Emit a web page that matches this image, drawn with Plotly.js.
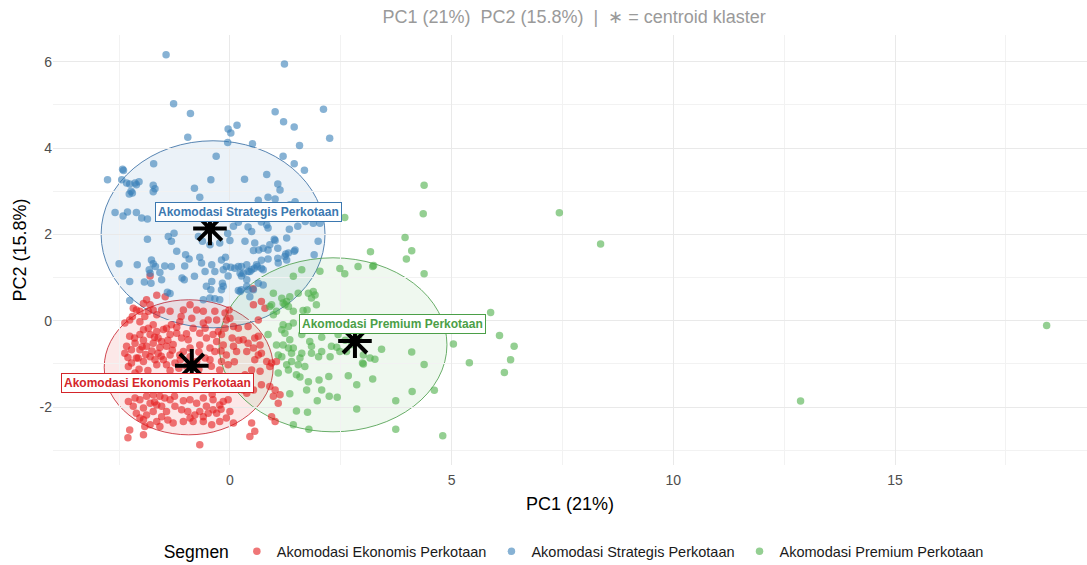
<!DOCTYPE html>
<html>
<head>
<meta charset="utf-8">
<script src="https://cdn.plot.ly/plotly-3.0.1.min.js"></script>
<style>
  html, body { margin: 0; padding: 0; background: #ffffff; }
  #chart { width: 1087px; height: 565px; }
</style>
</head>
<body>
<div id="chart"></div>
<script>
// Segment names, colours and the PCA scores (PC1, PC2) of every listing
const segments = ['Akomodasi Ekonomis Perkotaan', 'Akomodasi Strategis Perkotaan', 'Akomodasi Premium Perkotaan'];
const segmentColors = ['#E41A1C', '#377EB8', '#4DAF4A'];
const labelColors = ['#D4252A', '#3B78B0', '#4B9F48'];
const fillColors = ['rgba(228,26,28,0.10)', 'rgba(55,126,184,0.10)', 'rgba(77,175,74,0.09)'];
const edgeColors = ['rgba(200,40,50,0.85)', 'rgba(70,120,170,0.9)', 'rgba(80,160,80,0.85)'];

const ekonomisPts = [
  [-1.88,0.49],[-1.80,0.37],[-1.73,0.25],[-1.84,0.22],[-1.92,0.10],[-2.03,0.22],[-2.11,0.25],[-2.18,0.29],[-2.37,-0.05],[-2.26,0.02],
  [-2.03,-0.02],[-1.65,0.59],[-1.54,0.25],[-1.35,0.22],[-1.32,-0.09],[-1.13,-0.02],[-1.05,0.25],[-0.90,0.37],[-0.75,0.25],[-0.86,0.06],
  [-0.60,0.22],[-0.49,0.02],[-0.34,0.22],[-0.30,0.02],[-0.11,0.18],[-0.08,0.02],[-0.02,0.25],[0.00,0.06],[0.08,-0.13],[-0.11,-0.17],
  [-0.19,-0.32],[0.19,-0.17],[0.08,-0.59],[0.15,-0.71],
  [-1.65,0.14],[-1.73,-0.09],[-1.84,-0.17],[-1.95,-0.21],[-1.80,-0.32],[-1.65,-0.25],[-2.03,-0.32],[-2.26,-0.36],[-2.14,-0.52],[-2.33,-0.59],
  [-2.37,-0.75],[-2.22,-0.67],[-2.03,-0.67],[-1.88,-0.59],[-1.73,-0.52],[-1.54,-0.48],[-1.43,-0.59],[-1.62,-0.75],[-1.80,-0.83],[-1.69,-0.90],
  [-1.50,-0.90],[-1.35,-0.79],[-1.95,-0.94],[-2.11,-0.86],[-2.22,-0.98],[-1.65,-1.02],[-1.43,-1.02],[-1.24,-0.98],[-1.13,-0.79],[-1.05,-0.71],
  [-0.90,-0.63],[-0.94,-0.44],[-1.09,-0.40],[-1.20,-0.29],[-1.35,-0.32],[-1.43,-0.17],[-0.83,-0.17],[-0.68,-0.29],[-0.53,-0.40],[-0.56,-0.17],
  [-0.38,-0.32],[-0.26,-0.25],[-0.45,-0.63],[-0.34,-0.71],[-0.15,-0.56],[-0.08,-0.79],[-0.19,-0.94],[-0.04,-1.02],[-0.23,-1.14],[-0.56,-0.86],
  [-0.75,-0.94],[-0.90,-0.83],[-0.68,-0.56],
  [-2.29,-1.87],[-2.14,-1.79],[-2.03,-1.83],[-1.88,-1.75],[-1.73,-1.71],[-1.58,-1.75],[-1.47,-1.79],[-1.35,-1.83],[-2.18,-1.98],[-1.95,-2.02],
  [-1.80,-1.91],[-1.65,-1.95],[-1.54,-1.98],[-1.73,-2.10],[-1.88,-2.18],[-2.03,-2.25],[-2.11,-2.14],[-1.54,-2.22],[-1.43,-2.10],[-1.24,-1.98],
  [-1.09,-2.06],[-0.90,-1.83],[-0.75,-1.91],[-0.60,-1.79],[-0.53,-1.98],[-0.68,-2.10],[-0.79,-2.18],[-0.60,-2.22],[-0.49,-2.14],[-0.38,-2.06],
  [-0.30,-2.14],[-0.23,-1.95],[-0.15,-1.87],[-0.04,-1.83],[-0.38,-1.83],[0.00,-2.10],[-0.08,-2.25],[-0.23,-2.33],[0.08,-2.37],[-1.65,-2.33],
  [-1.80,-2.41],[-1.92,-2.45],[-1.58,-2.45],[-1.28,-2.37],[-1.05,-2.33],[-0.90,-2.25],[-0.83,-2.33],[-0.60,-2.33],[-0.41,-2.41],[-1.95,-2.64],
  [-2.26,-2.53],[-1.95,-2.29],[-0.68,-2.87],
  [0.53,0.37],[0.71,0.45],[0.79,0.29],[0.64,0.02],[0.41,-0.13],[0.56,-0.40],[0.30,-0.44],[0.41,-0.52],[0.64,-0.36],[0.68,-0.56],
  [0.53,-0.63],[0.38,-0.71],[0.71,-0.75],[0.83,-0.94],[0.94,-0.98],[1.05,-0.94],[0.90,-1.06],[0.64,-0.79],[0.56,-0.90],[0.49,-1.14],
  [0.68,-1.17],[0.34,-1.25],[0.30,-1.60],[0.38,-1.68],[0.53,-1.60],[0.71,-1.48],[0.90,-1.52],[1.02,-1.60],[0.98,-1.75],[1.13,-1.71],
  [1.09,-1.91],[0.94,-2.22],[1.02,-2.33],[0.49,-2.37],[0.56,-2.56],[0.45,-2.68],
  [-1.80,1.04],[-1.46,0.56],[0.52,0.74],[-2.30,-2.71],[-2.29,-1.06],[-2.14,-1.21],[-2.07,-0.86],[-1.95,-0.45],[-1.70,-0.38],[-1.58,-0.62],
  [-1.28,-0.55],[-1.15,-1.10],[-0.98,-1.05],[-0.70,-1.12],[-0.42,-1.05],[-2.05,-1.12],[-1.85,-1.15],[-1.35,-1.15],[-0.85,-0.98],[-1.50,-0.20],
  [-1.95,0.40],[-2.20,0.10],[-0.60,-0.05],[-0.30,-0.48],[0.05,-0.40],[0.20,-0.45],[0.10,-0.95],[-1.25,-1.75],[-1.05,-1.85],[-0.40,-1.70],
  [-2.15,-0.40],[-1.98,-0.60],[-1.76,-0.70],[-1.55,-0.82],[-1.30,-0.68],[-1.12,-0.90],[-2.30,-0.85],[-1.90,-0.78],[-1.62,-0.40],[-1.40,-0.45],
  [-1.20,-0.15],[-0.98,-0.30],[-0.70,-0.72],[-0.45,-0.90],[-0.20,-0.70],[-1.40,-2.30],[-1.70,-1.88],[-0.95,-2.10],[-0.20,-2.05],[-1.10,0.10]
];

const strategisPts = [
  [-1.44,6.16],[1.23,5.95],[-1.27,5.03],[-0.89,4.80],[-0.95,4.25],[-0.31,3.81],[-1.72,3.64],[-2.42,3.51],[-2.40,3.48],[-0.04,4.44],
  [0.02,4.35],[0.16,4.53],[-0.05,4.13],[0.51,4.10],[1.02,4.84],[1.21,4.61],[1.45,4.49],[1.57,4.06],[2.11,4.90],[2.25,4.23],
  [1.20,3.81],[1.45,3.64],[1.68,3.49],[0.83,3.39],[0.33,3.28],[-0.43,3.27],[-2.76,3.27],
  [-2.44,3.27],[-2.33,3.19],[-2.26,3.17],[-2.14,3.19],[-2.05,3.22],[-2.11,3.15],[-2.23,3.00],[-2.27,2.94],[-2.20,2.96],[-1.73,3.14],
  [-1.69,3.06],[-1.73,2.99],[-0.80,3.07],[-0.68,2.86],[1.08,3.17],[1.13,3.03],[0.86,2.86],[0.64,2.79],[1.02,2.82],[-2.59,2.51],
  [-2.41,2.43],[-2.31,2.52],[-2.11,2.51],[-1.99,2.38],[-1.86,2.36],[1.47,2.76],[1.35,2.69],[1.88,2.26],[2.03,2.26],[1.53,2.19],
  [1.34,2.12],[0.86,2.15],[0.83,2.22],[0.71,2.29],[0.41,2.17],[0.49,2.07],[0.19,2.28],[0.08,2.19],[-0.05,2.02],[0.00,1.86],
  [-0.23,1.80],[-0.45,1.76],[-0.62,1.84],[-1.26,2.03],[-1.39,1.95],[-1.86,1.89],[-1.32,1.84],[-1.20,1.61],[-1.00,1.53],[-0.92,1.43],
  [-1.02,1.27],[-1.47,1.27],[-1.32,1.26],[-1.77,1.41],[-1.73,1.32],[-1.82,1.18],[-1.68,1.26],[-2.09,1.30],[-2.50,1.32],[-2.26,0.91],
  [-1.78,0.87],[-1.54,0.95],[-1.08,0.99],[-1.03,0.95],[-0.80,1.03],[-0.64,1.34],[-0.68,1.47],[-0.56,1.14],[-0.41,1.30],[-0.19,1.41],
  [-0.10,1.47],[0.34,1.84],[0.56,1.80],[0.65,1.64],[0.53,1.63],[0.75,1.68],[0.86,1.64],[1.02,1.86],[1.08,1.68],[1.28,1.92],
  [1.45,1.61],[1.26,1.55],[1.28,1.41],[1.08,1.45],[0.86,1.43],[0.71,1.40],[0.62,1.26],[0.55,1.22],[0.49,1.18],[0.38,1.30],
  [0.26,1.26],[0.19,1.26],[0.11,1.22],[0.23,1.10],[0.26,1.04],[0.02,1.24],[-0.08,1.26],[-0.15,1.18],[-0.34,1.14],[-0.04,1.04],
  [-0.41,0.91],[-0.53,0.80],[-0.43,0.72],[-0.19,0.72],[-0.17,0.87],[0.23,0.68],[0.41,0.72],[0.64,0.87],[0.75,0.83],[1.99,1.84],
  [1.90,1.53],
  [-2.26,0.47],[-1.41,0.66],[-1.35,0.63],[-0.45,0.53],[-0.34,0.51],[-0.23,0.49],[-0.15,0.80],[0.19,0.70],[0.53,0.72],[0.45,0.56],
  [-0.60,0.49],[-1.80,1.10],[-1.58,1.12],[-1.93,0.90],[0.30,1.10],[0.45,1.14],[0.75,1.18],[0.38,0.95],[0.90,1.76],[1.24,1.49],
  [1.32,1.57],[1.47,1.64],[1.09,1.34],[0.60,1.30],[0.71,1.22],[0.41,1.14],[0.26,0.72],[0.38,0.80],[1.70,2.30],[1.00,1.89],
  [-0.71,1.95]
];

const premiumPts = [
  [4.38,3.14],[4.36,2.48],[3.95,1.93],[4.10,1.62],[3.98,1.43],[4.38,1.09],[3.17,1.60],[3.22,1.26],[3.24,1.28],[2.89,1.26],
  [2.48,1.21],[2.59,1.09],[2.03,1.15],[1.62,1.18],[1.43,1.03],[2.59,2.39],[1.88,0.68],[1.92,0.60],[1.84,0.53],[1.74,0.25],
  [1.65,0.24],[1.35,0.56],[1.28,0.45],[1.24,0.37],[0.98,0.14],[1.05,0.22],[0.90,0.33],[0.98,0.64],[1.17,0.52],[1.54,0.64],
  [1.77,0.64],[1.20,0.41],[1.32,0.33],[1.43,0.22],[0.94,0.37],[1.95,0.37],
  [1.20,-0.09],[1.32,-0.13],[1.43,-0.05],[1.17,-0.21],[1.62,-0.32],[2.07,-0.38],[2.44,-0.32],[1.05,-0.56],[1.20,-0.56],[1.39,-0.75],
  [1.62,-0.75],[1.84,-0.75],[2.07,-0.71],[1.84,-0.59],[2.29,-0.59],[2.41,-0.61],[2.48,-0.71],[2.63,-0.71],[2.26,-0.83],[2.00,-0.83],
  [1.58,-0.86],[1.39,-0.94],[1.69,-1.06],[1.54,-1.02],[1.32,-1.14],[1.09,-1.21],[1.58,-1.30],[1.77,-1.41],[2.01,-1.37],[2.23,-1.29],
  [2.67,-1.27],[2.86,-1.48],[3.22,-1.35],[1.73,-1.60],[1.35,-1.69],[1.97,-1.85],[2.24,-1.75],[2.42,-1.77],[1.50,-2.09],[1.75,-2.12],
  [2.86,-2.04],[1.43,-2.41],[1.78,-2.51],[3.74,-2.51],[3.42,-0.66],[3.27,-0.89],[3.01,-0.79],[2.99,-0.98],[3.01,-1.00],[3.16,-0.86],
  [4.10,-0.72],[4.38,-1.01],[3.74,-1.85],[4.11,-1.64],[4.61,-1.61],[5.04,-0.54],[4.80,-2.66],[5.40,-0.97],[5.88,0.19],[6.08,-0.34],
  [6.41,-0.59],[6.33,-0.90],[6.19,-1.20],[2.60,-0.45],[2.75,-0.55],[2.90,-0.40],[1.35,-0.44],[1.32,-0.63],[1.43,-0.63],[1.09,-0.79],
  [1.28,-1.02],[0.86,-0.32],[1.24,-0.29],[1.17,-0.83],[1.50,-1.25],[2.07,-1.60],[1.80,-0.48],
  [7.43,2.50],[8.36,1.78],[12.87,-1.86],[18.42,-0.11]
];

// Cluster centroids, 95% ellipses (centre and semi-axes) and label anchors, in segment order
const centroidX = [-0.86, -0.45, 2.82];
const centroidY = [-1.04, 2.14, -0.47];
const ellipseCx = [-0.93, -0.38, 2.325];
const ellipseCy = [-1.077, 2.004, -0.556];
const ellipseRx = [1.905, 2.525, 2.57];
const ellipseRy = [1.564, 2.166, 2.015];
const labelX = [-1.64, 0.43, 3.66];
const labelY = [-1.44, 2.52, -0.07];

// Axis ticks
const xTickVals = [0, 5, 10, 15];
const xTickText = ['0', '5', '10', '15'];
const xMinorVals = [-2.5, 2.5, 7.5, 12.5, 17.5];
const yTickVals = [-2, 0, 2, 4, 6];
const yTickText = ['-2', '0', '2', '4', '6'];
const yMinorVals = [-3, -1, 1, 3, 5];

const pointSets = [ekonomisPts, strategisPts, premiumPts];
const FONT = '"Liberation Sans", Arial, Helvetica, sans-serif';

const traces = pointSets.map((pts, i) => ({
  type: 'scatter',
  mode: 'markers',
  name: segments[i],
  x: pts.map(p => p[0]),
  y: pts.map(p => p[1]),
  marker: { color: segmentColors[i], size: 7.5, opacity: 0.6, line: { width: 0 } },
  hoverinfo: 'x+y+name'
}));

traces.push({
  type: 'scatter',
  mode: 'markers',
  x: centroidX,
  y: centroidY,
  showlegend: false,
  hoverinfo: 'skip',
  marker: { symbol: 'asterisk-open', size: 28, color: '#000000', line: { color: '#000000', width: 4 } }
});

const shapes = segments.map((s, i) => ({
  type: 'circle',
  xref: 'x', yref: 'y',
  x0: ellipseCx[i] - ellipseRx[i], x1: ellipseCx[i] + ellipseRx[i],
  y0: ellipseCy[i] - ellipseRy[i], y1: ellipseCy[i] + ellipseRy[i],
  fillcolor: fillColors[i],
  line: { color: edgeColors[i], width: 1 },
  layer: 'below'
}));

const annotations = segments.map((s, i) => ({
  x: labelX[i], y: labelY[i], xref: 'x', yref: 'y',
  text: '<b>' + s + '</b>',
  showarrow: false,
  font: { family: FONT, size: 12, color: labelColors[i] },
  bgcolor: '#ffffff',
  bordercolor: labelColors[i],
  borderwidth: 1,
  borderpad: 2
}));

const gridMajor = '#e9e9e9';
const gridMinor = '#f2f2f2';

const layout = {
  width: 1087,
  height: 565,
  margin: { l: 53, r: 0, t: 35, b: 100, autoexpand: false },
  paper_bgcolor: '#ffffff',
  plot_bgcolor: '#ffffff',
  font: { family: FONT, color: '#000000' },
  showlegend: true,
  title: {
    text: 'PC1 (21%)\u00a0 PC2 (15.8%)\u00a0 |\u00a0 \u2217 = centroid klaster',
    font: { family: FONT, size: 18, color: '#9a9a9a' },
    xref: 'paper', x: 0.504, xanchor: 'center',
    yref: 'container', y: 1 - 17 / 565, yanchor: 'middle'
  },
  xaxis: {
    range: [-3.99, 19.33],
    tickmode: 'array', tickvals: xTickVals, ticktext: xTickText,
    showgrid: true, gridcolor: gridMajor, gridwidth: 1,
    minor: { tickmode: 'array', tickvals: xMinorVals, showgrid: true, gridcolor: gridMinor, gridwidth: 1 },
    zeroline: false, showline: false, ticks: '',
    ticklabelstandoff: 5,
    tickfont: { family: FONT, size: 14, color: '#4d4d4d' },
    title: { text: 'PC1 (21%)', font: { family: FONT, size: 18, color: '#000000' }, standoff: 10 },
    automargin: false
  },
  yaxis: {
    range: [-3.34, 6.62],
    tickmode: 'array', tickvals: yTickVals, ticktext: yTickText,
    showgrid: true, gridcolor: gridMajor, gridwidth: 1,
    minor: { tickmode: 'array', tickvals: yMinorVals, showgrid: true, gridcolor: gridMinor, gridwidth: 1 },
    zeroline: false, showline: false, ticks: '',
    tickfont: { family: FONT, size: 14, color: '#4d4d4d' },
    title: { text: 'PC2 (15.8%)', font: { family: FONT, size: 18, color: '#000000' }, standoff: 8 },
    automargin: false
  },
  legend: {
    orientation: 'h',
    x: 0.505, xanchor: 'center',
    y: -0.202, yanchor: 'middle',
    title: { text: 'Segmen', font: { family: FONT, size: 17.5, color: '#000000' }, side: 'left' },
    font: { family: FONT, size: 14.5, color: '#1a1a1a' },
    itemwidth: 30,
    bgcolor: 'rgba(0,0,0,0)'
  },
  shapes: shapes,
  annotations: annotations
};

Plotly.newPlot('chart', traces, layout, { displayModeBar: false, staticPlot: true });
</script>
</body>
</html>
